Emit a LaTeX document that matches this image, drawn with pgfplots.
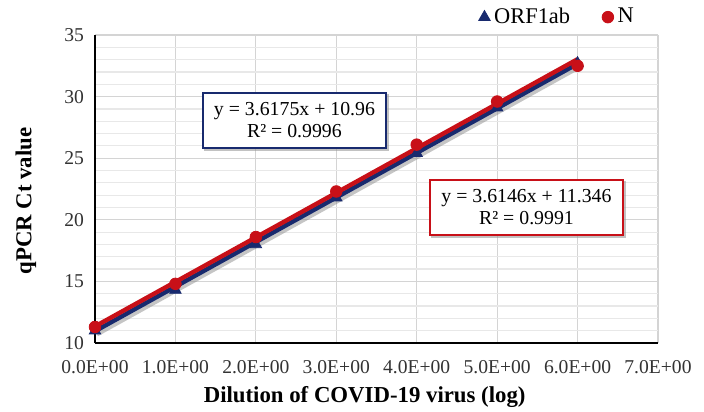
\documentclass[border=0pt]{standalone}
\usepackage{pgfplots}
\pgfplotsset{compat=1.18}
\usepackage{fontspec}
\setmainfont{Liberation Serif}

\definecolor{navy}{RGB}{24,42,110}
\definecolor{darkred}{RGB}{200,16,24}
\definecolor{gridmaj}{RGB}{212,212,212}
\definecolor{gridmin}{RGB}{232,232,232}

\begin{document}
\begin{tikzpicture}
  \useasboundingbox (-47.5pt,-34pt) rectangle (304.5pt,171.5pt);
  \begin{axis}[
    at={(0,0)}, anchor=south west,
    scale only axis,
    width=281.5pt, height=154pt,
    xmin=0, xmax=7, ymin=10, ymax=35,
    axis x line*=bottom, axis y line*=left,
    axis line style={black, line width=0.8pt, -},
    xtick={0,1,2,3,4,5,6,7},
    xticklabels={0.0E+00,1.0E+00,2.0E+00,3.0E+00,4.0E+00,5.0E+00,6.0E+00,7.0E+00},
    ytick={10,15,20,25,30,35},
    minor y tick num=4,
    major tick length=0pt, minor tick length=0pt,
    grid=both,
    major grid style={gridmaj, line width=0.6pt},
    minor grid style={gridmin, line width=0.6pt},
    tick label style={font=\fontsize{9.8}{11}\selectfont, text=black!80},
    /pgf/number format/assume math mode=true,
    xticklabel style={yshift=-5pt},
    yticklabel style={xshift=-2pt},
    xlabel={\textbf{Dilution of COVID-19 virus (log)}},
    ylabel={\textbf{qPCR Ct value}},
    label style={font=\fontsize{11.4}{13}\selectfont},
    xlabel style={at={(axis description cs:0.479,-0.175)}, anchor=center},
    ylabel style={at={(axis description cs:-0.1226,0.461)}, anchor=center},
    legend style={at={(0.965,1.058)}, anchor=east, draw=none, fill=none,
      font=\fontsize{11.2}{12}\selectfont, legend columns=2,
      /tikz/every even column/.append style={column sep=14pt},
      inner xsep=0pt},
    legend image code/.code={\draw[#1] plot coordinates {(0.12cm,0cm)};},
    clip=false,
  ]
    % shadows of the trendlines
    \addplot[black!45, opacity=0.5, line width=2.8pt, forget plot, xshift=0.8pt, yshift=-1.3pt]
      coordinates {(0,10.96) (6,32.665)};
    % ORF1ab
    \addplot[only marks, mark=triangle*, mark size=3.3pt, color=navy]
      coordinates {(0,11.0) (1,14.3) (2,18.0) (3,21.8) (4,25.4) (5,29.1) (6,32.7)};
    \addlegendentry{ORF1ab}
    % N
    \addplot[only marks, mark=*, mark size=2.9pt, color=darkred]
      coordinates {(0,11.3) (1,14.8) (2,18.6) (3,22.3) (4,26.1) (5,29.6) (6,32.5)};
    \addlegendentry{N}
    % trendlines
    \addplot[navy, line width=2.2pt, forget plot] coordinates {(0,10.96) (6,32.665)};
    \addplot[darkred, line width=2.2pt, forget plot] coordinates {(0,11.346) (6,33.034)};
    % equation boxes
    \node[fill=black!40, minimum width=92.5pt, minimum height=28.5pt,
      opacity=0.6] at (axis cs:2.51,27.91) {};
    \node[draw=navy, line width=1pt, fill=white, minimum width=91.5pt, minimum height=27.5pt,
      align=center, font=\fontsize{9.9}{11}\selectfont, inner sep=2pt]
      at (axis cs:2.48,28.06) {y = 3.6175x + 10.96\\R² = 0.9996};
    \node[fill=black!40, minimum width=97.5pt, minimum height=28.5pt,
      opacity=0.6] at (axis cs:5.395,20.85) {};
    \node[draw=darkred, line width=1pt, fill=white, minimum width=96.5pt, minimum height=27.5pt,
      align=center, font=\fontsize{9.9}{11}\selectfont, inner sep=2pt]
      at (axis cs:5.365,21.0) {y = 3.6146x + 11.346\\R² = 0.9991};
  \end{axis}
\end{tikzpicture}
\end{document}
